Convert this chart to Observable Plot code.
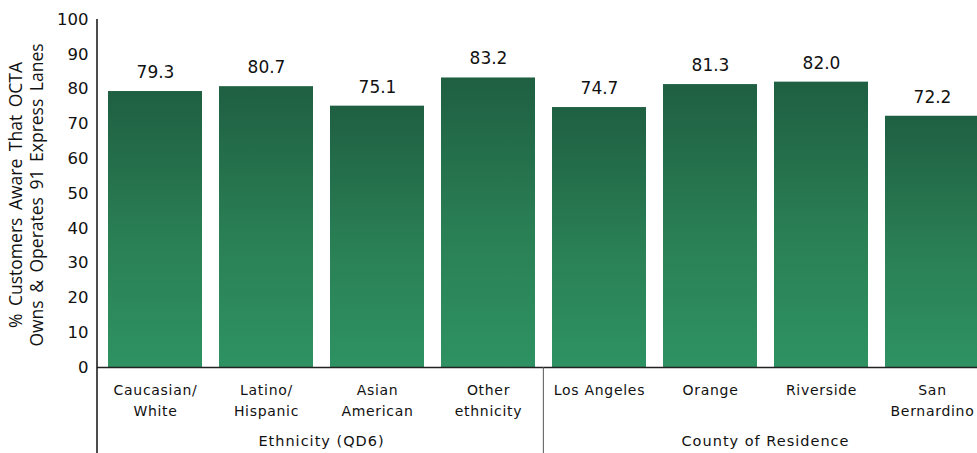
<!DOCTYPE html>
<html>
<head>
<meta charset="utf-8">
<script src="https://cdn.jsdelivr.net/npm/d3@7"></script>
<script src="https://cdn.jsdelivr.net/npm/@observablehq/plot@0.6"></script>
<style>
  html, body { margin: 0; padding: 0; background: #fff; overflow: hidden; }
  #chart { width: 977px; height: 453px; overflow: hidden; }
  svg { overflow: hidden; }
</style>
</head>
<body>
<div id="chart"></div>
<script>
const categories = ["Caucasian/\nWhite", "Latino/\nHispanic", "Asian\nAmerican", "Other\nethnicity", "Los Angeles", "Orange", "Riverside", "San\nBernardino"];
const values = [79.3, 80.7, 75.1, 83.2, 74.7, 81.3, 82.0, 72.2];
const groupNames = ["Ethnicity (QD6)", "County of Residence"];
const groupMembers = [[0, 1, 2, 3], [4, 5, 6, 7]];
const yTicks = [0, 10, 20, 30, 40, 50, 60, 70, 80, 90, 100];
const yTitle = ["% Customers Aware That OCTA", "Owns & Operates 91 Express Lanes"];

(function () {
const data = categories.map((c, i) => ({cat: c, value: values[i]}));

const W = 977, H = 453;
const pLeft = 97, pRight = 989, pTop = 19, pBottom = 367;
const pad = 0.155;
const font = "'DejaVu Sans', sans-serif";

const plot = Plot.plot({
  width: W,
  height: H,
  marginLeft: pLeft,
  marginRight: 0,
  marginTop: pTop,
  marginBottom: H - pBottom,
  style: {fontFamily: font, fontSize: "15px", color: "#111", background: "#fff"},
  x: {type: "band", domain: categories, range: [pLeft, pRight], paddingInner: pad, paddingOuter: pad / 2},
  y: {domain: [0, 100]},
  marks: [
    () => {
      const svg = d3.create("svg:defs");
      const g = svg.append("linearGradient").attr("id", "barGrad").attr("x1", 0).attr("x2", 0).attr("y1", 0).attr("y2", 1);
      g.append("stop").attr("offset", "0%").attr("stop-color", "#1f5f42");
      g.append("stop").attr("offset", "55%").attr("stop-color", "#2a8055");
      g.append("stop").attr("offset", "100%").attr("stop-color", "#2e9262");
      return svg.node();
    },
    Plot.barY(data, {x: "cat", y: "value", fill: "url(#barGrad)"}),
    Plot.text(data, {x: "cat", y: "value", text: d => d.value.toFixed(1), dy: -19, fontSize: 17, fill: "#111"}),
    Plot.axisY({ticks: yTicks, tickSize: 0, tickPadding: 9, fontSize: 16.5, label: null}),
    Plot.axisX({tickSize: 0, tickPadding: 13, fontSize: 14, lineHeight: 1.5, label: null, textAnchor: "middle"}),
    Plot.ruleY([0], {stroke: "#222", strokeWidth: 1.5})
  ]
});

document.getElementById("chart").appendChild(plot);

const svg = d3.select(plot);
svg.selectAll("g[aria-label='x-axis tick label'] text").attr("letter-spacing", "0.7px");

const x = plot.scale("x");
const step = (pRight - pLeft) / categories.length;

svg.append("line").attr("x1", pLeft).attr("x2", pLeft).attr("y1", pTop).attr("y2", H)
  .attr("stroke", "#111").attr("stroke-width", 1.5);

groupMembers.forEach((members, gi) => {
  const firstX = x.apply(categories[members[0]]) - step * pad / 2;
  const lastX = x.apply(categories[members[members.length - 1]]) + x.bandwidth + step * pad / 2;
  if (gi > 0) {
    svg.append("line").attr("x1", firstX).attr("x2", firstX).attr("y1", pBottom).attr("y2", H)
      .attr("stroke", "#555").attr("stroke-width", 1);
  }
  svg.append("text").attr("x", (firstX + lastX) / 2).attr("y", 442)
    .attr("text-anchor", "middle").attr("dominant-baseline", "middle")
    .attr("font-family", font).attr("font-size", 14.5).attr("letter-spacing", "1px").attr("fill", "#111")
    .text(groupNames[gi]);
});

const cy = 195;
yTitle.forEach((t, i) => {
  svg.append("text")
    .attr("transform", `translate(${17 + i * 21},${cy}) rotate(-90)`)
    .attr("text-anchor", "middle").attr("dominant-baseline", "middle")
    .attr("font-family", "'Open Sans', sans-serif").attr("font-size", 17.5)
    .attr("word-spacing", "3px").attr("fill", "#111")
    .text(t);
});
})();
</script>
</body>
</html>
